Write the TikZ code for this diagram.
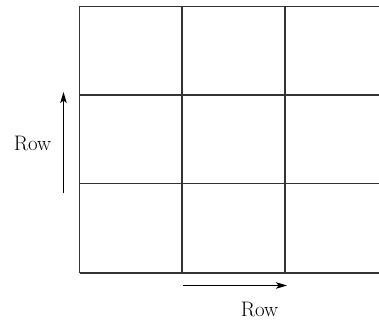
\documentclass[tikz,border=0pt]{standalone}
\usetikzlibrary{arrows.meta}
\begin{document}
\begin{tikzpicture}[x=1pt,y=-1pt,
  gridline/.style={line width=1.2pt,draw=black!80},
  axisarrow/.style={line width=0.9pt,-{Stealth[length=11pt,width=6.5pt,inset=2.5pt]}},
  lbl/.style={font=\fontsize{21}{25}\selectfont,inner sep=0pt}]
\useasboundingbox (0,0) rectangle (379,320);
% grid
\foreach \y in {6.5,95,183.5,273} \draw[gridline] (79.5,\y) -- (379,\y);
\foreach \x in {79.5,182,285} \draw[gridline] (\x,6.5) -- (\x,273);
% arrows
\coordinate (v1) at (63.5,193);
\coordinate (v2) at (63.5,92);
\coordinate (h1) at (183,285.5);
\coordinate (h2) at (287,285.5);
\draw[axisarrow] (v1) -- (v2);
\draw[axisarrow] (h1) -- (h2);
% labels
\node[lbl] (rowleft) at (32.5,143) {Row};
\node[lbl] (rowbottom) at (259.5,309) {Row};
\end{tikzpicture}
\end{document}
